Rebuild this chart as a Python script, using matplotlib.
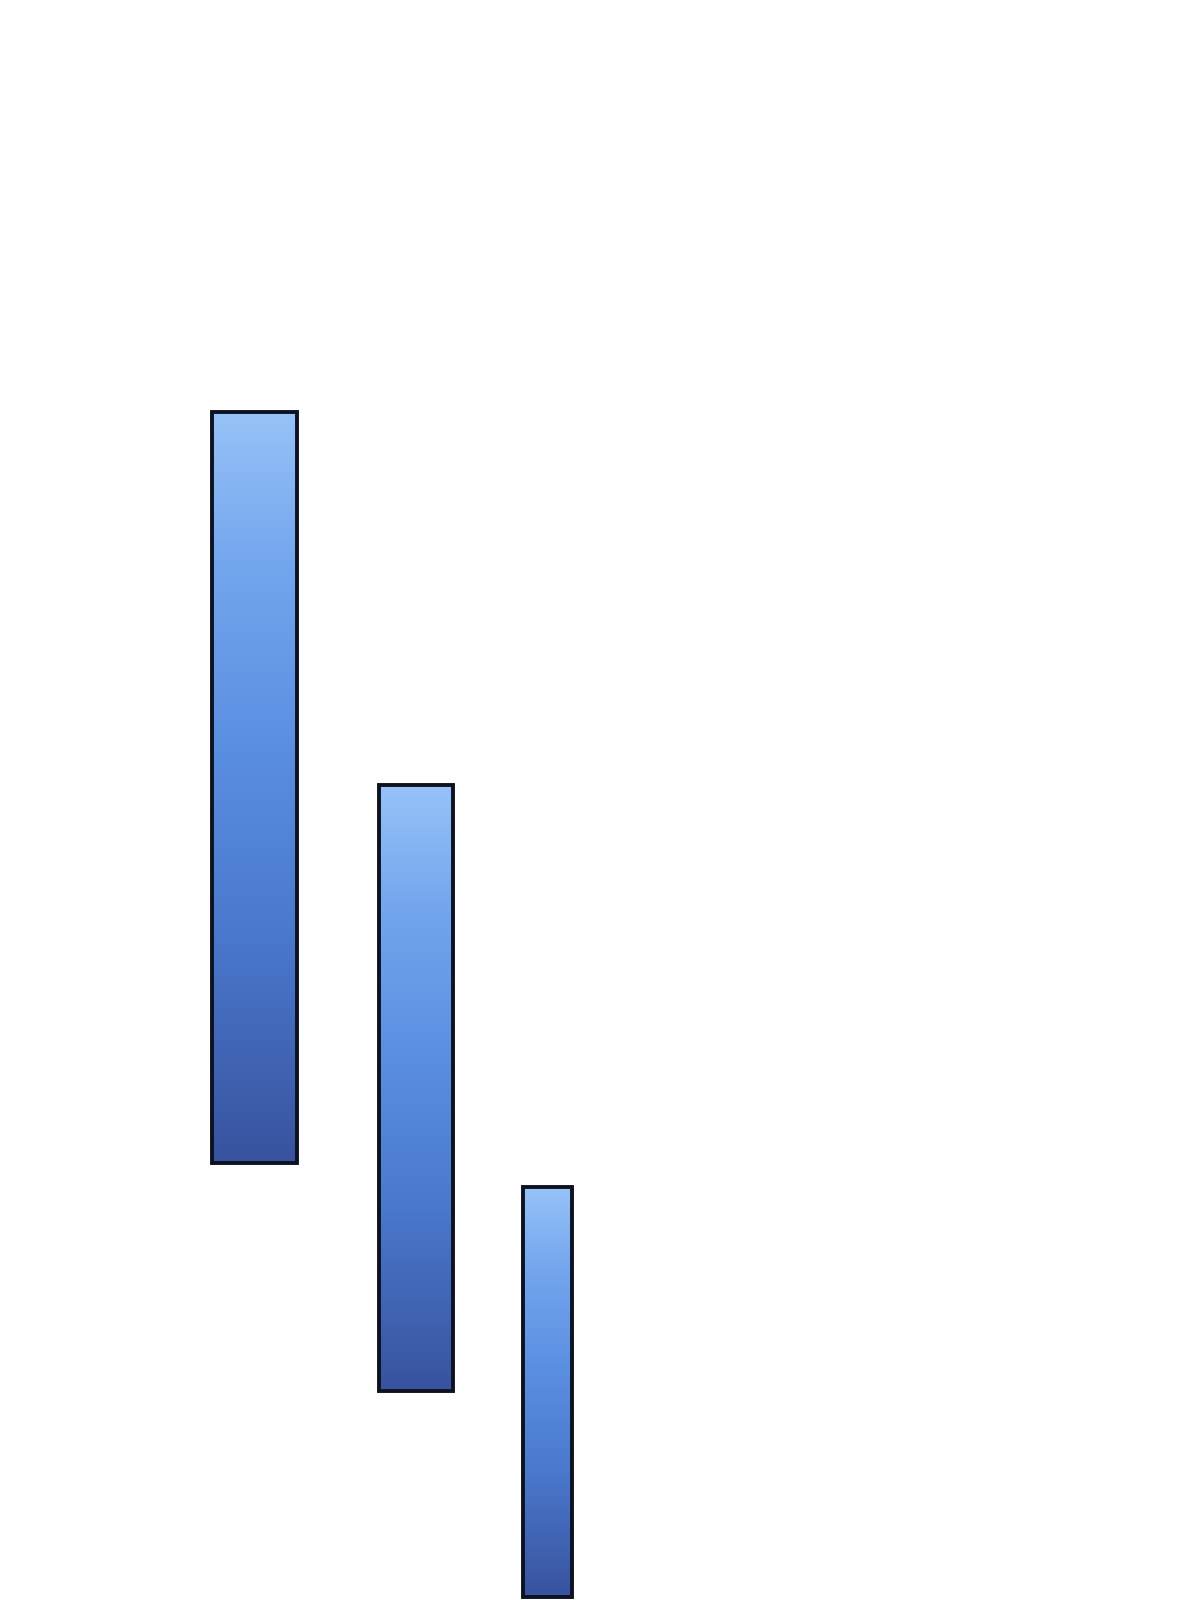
import numpy as np
import matplotlib.pyplot as plt
from matplotlib.colors import LinearSegmentedColormap
from matplotlib.patches import Rectangle

# Floating bars: centre position, width, bottom and top values
positions = [2.545, 4.16, 5.475]
widths = [0.85, 0.74, 0.49]
bottoms = [43.7, 20.9, 0.3]
tops = [118.8, 81.5, 41.3]

# Gradient: light blue on top, dark blue at the bottom
cmap = LinearSegmentedColormap.from_list(
    'azul', [(0.0, '#38539f'), (0.3, '#4a78cc'), (0.55, '#5a8ee0'),
             (0.8, '#74a6ee'), (1.0, '#96c2f7')])

fig = plt.figure(figsize=(12, 16), dpi=100)
ax = fig.add_axes([0, 0, 1, 1])
ax.set_xlim(0, 12)
ax.set_ylim(0, 160)
ax.axis('off')

grad = np.linspace(0, 1, 256).reshape(-1, 1)

for x, w, b, t in zip(positions, widths, bottoms, tops):
    ax.bar(x, t - b, width=w, bottom=b, color='none',
           edgecolor='#0d1220', linewidth=2.8, zorder=3)
    img = ax.imshow(grad, cmap=cmap, aspect='auto', origin='lower',
                    extent=[x - w / 2, x + w / 2, b, t], zorder=2)
    clip = Rectangle((x - w / 2, b), w, t - b, transform=ax.transData)
    img.set_clip_path(clip)

ax.set_xlim(0, 12)
ax.set_ylim(0, 160)

fig.savefig('out.png', dpi=100, facecolor='white')
